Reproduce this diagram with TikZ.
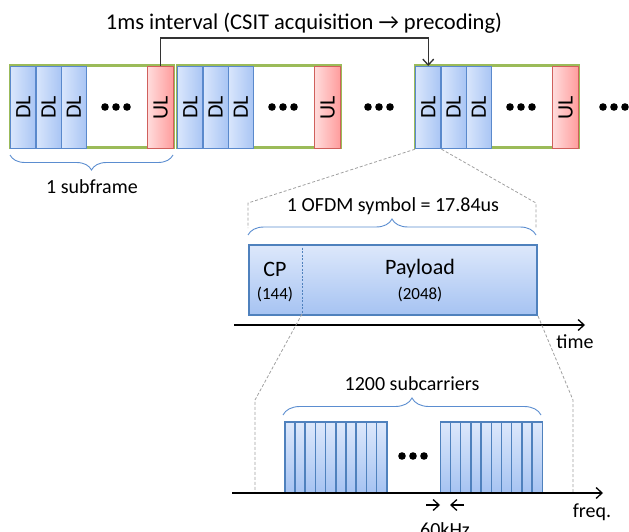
\documentclass[tikz,border=0pt]{standalone}
\usepackage{fontspec}
\setmainfont{Carlito}
\usetikzlibrary{decorations.pathreplacing,arrows.meta,calc}
\definecolor{grn}{HTML}{9BBB59}
\definecolor{dlborder}{HTML}{5A89CC}
\definecolor{dlL}{HTML}{D9E6FC}
\definecolor{dlR}{HTML}{A9C5F4}
\definecolor{ulborder}{HTML}{D0605C}
\definecolor{ulL}{HTML}{FFDCDC}
\definecolor{ulR}{HTML}{FF9C9C}
\definecolor{symborder}{HTML}{4F81BD}
\definecolor{symT}{HTML}{DDE8FB}
\definecolor{symB}{HTML}{A6C3F2}
\definecolor{bracec}{HTML}{5B8DD0}
\definecolor{dashc}{HTML}{A0A0A0}
\definecolor{connc}{HTML}{333333}
\tikzset{
  txt/.style={font=\fontsize{20}{24}\selectfont, inner sep=0pt},
  toptxt/.style={font=\fontsize{22.5}{27}\selectfont, inner sep=0pt},
  small/.style={font=\fontsize{17}{20}\selectfont, inner sep=0pt},
  big/.style={font=\fontsize{22}{26}\selectfont, inner sep=0pt},
  framebox/.style={draw=grn, line width=3pt},
  dlbox/.style={draw=dlborder, line width=1.2pt, left color=dlL, right color=dlR,
    minimum width=25.3pt, minimum height=82pt, inner sep=0pt, anchor=north west,
    font=\fontsize{22}{26}\selectfont},
  ulbox/.style={draw=ulborder, line width=1.2pt, left color=ulL, right color=ulR,
    minimum width=26pt, minimum height=82pt, inner sep=0pt, anchor=north west,
    font=\fontsize{22}{26}\selectfont},
  symbox/.style={draw=symborder, line width=2pt, top color=symT, bottom color=symB,
    minimum width=288pt, minimum height=70pt, inner sep=0pt, anchor=north west},
  barbox/.style={draw=symborder, line width=1.5pt, top color=symT, bottom color=symB,
    minimum width=10.2pt, minimum height=71pt, inner sep=0pt, anchor=north west},
  bracestyle/.style={draw=bracec, line width=0.9pt, decorate},
  dashline/.style={draw=dashc, line width=0.8pt, dash pattern=on 3pt off 2pt},
  conn/.style={draw=connc, line width=1.3pt, -{Straight Barb[length=6pt,width=11pt]}},
  axis/.style={draw=black, line width=1.3pt, -{Straight Barb[length=6pt,width=11pt]}},
  smallarrow/.style={draw=black, line width=1.3pt, -{Straight Barb[length=6pt,width=11pt]}},
}
\begin{document}
\begin{tikzpicture}[x=1pt,y=-1pt]
\useasboundingbox (0,0) rectangle (629,532);
% frames
\foreach \X/\n in {10/a,177/b,415/c}{
  \draw[framebox] (\X,66) rectangle ++(163,82);
  \node[dlbox] (dl1\n) at (\X,66) {\rotatebox{90}{DL}};
  \node[dlbox] (dl2\n) at (\X+25.3,66) {\rotatebox{90}{DL}};
  \node[dlbox] (dl3\n) at (\X+50.6,66) {\rotatebox{90}{DL}};
  \node[ulbox] (ul\n) at (\X+137,66) {\rotatebox{90}{UL}};
  \foreach \d in {-11,0,11}{\fill (\X+106+\d,107) circle (3.8);}
}
\foreach \d in {-11,0,11}{\fill (379+\d,107) circle (3.8);}
\foreach \d in {-11,0,11}{\fill (614+\d,107) circle (3.8);}
% top label and connector
\node[toptxt] (toplbl) at (304,23) {1ms interval (CSIT acquisition → precoding)};
\draw[conn] (ula.north) -- ++(0,-28) -| (dl1c.north);
% subframe brace
\coordinate (sfl) at (10,155);
\coordinate (sfr) at (173,155);
\draw[bracestyle, decoration={brace, mirror, amplitude=15pt}] (sfl) -- (sfr);
\node[txt] (sflbl) at (92,187) {1 subframe};
% OFDM symbol
\coordinate (ofl) at (248,235);
\coordinate (ofr) at (536,235);
\coordinate (dsl) at (248,203);
\coordinate (dsr) at (536,203);
\coordinate (dsl2) at (248,228);
\coordinate (dsr2) at (536,228);
\draw[dashline] (dl1c.south west) -- (dsl) -- (dsl2);
\draw[dashline] (dl1c.south east) -- (dsr) -- (dsr2);
\draw[bracestyle, decoration={brace, amplitude=16pt}] (ofl) -- (ofr);
\node[txt] (oflbl) at (393,206) {1 OFDM symbol = 17.84us};
\node[symbox] (sym) at (248,244) {};
\coordinate (cpt) at (302,244);
\coordinate (cpb) at (302,314);
\draw[draw=symborder, line width=0.8pt, dash pattern=on 2pt off 1.5pt] (cpt) -- (cpb);
\node[big] (cp) at (275,269) {CP};
\node[small] (cpn) at (275,294) {(144)};
\node[big] (pl) at (420,269) {Payload};
\node[small] (pln) at (420,294) {(2048)};
\coordinate (t0) at (234,325);
\coordinate (t1) at (585,325);
\draw[axis] (t0) -- (t1);
\node[txt] (tlbl) at (575,342) {time};
% zoom to subcarriers
\coordinate (fl1) at (255,400);
\coordinate (fl2) at (255,492);
\coordinate (fr1) at (573,400);
\coordinate (fr2) at (573,492);
\draw[dashline] (cpb) -- (fl1) -- (fl2);
\draw[dashline] (sym.south east) -- (fr1) -- (fr2);
% 1200 subcarriers brace
\coordinate (scl) at (283,415);
\coordinate (scr) at (541,415);
\draw[bracestyle, decoration={brace, amplitude=17pt}] (scl) -- (scr);
\node[txt] (sclbl) at (412,384) {1200 subcarriers};
\foreach \i in {0,...,9}{
  \node[barbox] (ba\i) at (284+\i*10.2,421) {};
  \node[barbox] (bb\i) at (439.5+\i*10.2,421) {};
}
\foreach \d in {-11,0,11}{\fill (413+\d,456) circle (3.8);}
\coordinate (f0) at (232,493);
\coordinate (f1) at (603,493);
\draw[axis] (f0) -- (f1);
\node[txt] (flbl) at (592,512) {freq.};
\coordinate (a1s) at (426,505);
\coordinate (a1e) at (440,505);
\coordinate (a2s) at (464,505);
\coordinate (a2e) at (450,505);
\draw[smallarrow] (a1s) -- (a1e);
\draw[smallarrow] (a2s) -- (a2e);
\node[txt] (khz) at (445,530) {60kHz};
\end{tikzpicture}
\end{document}
